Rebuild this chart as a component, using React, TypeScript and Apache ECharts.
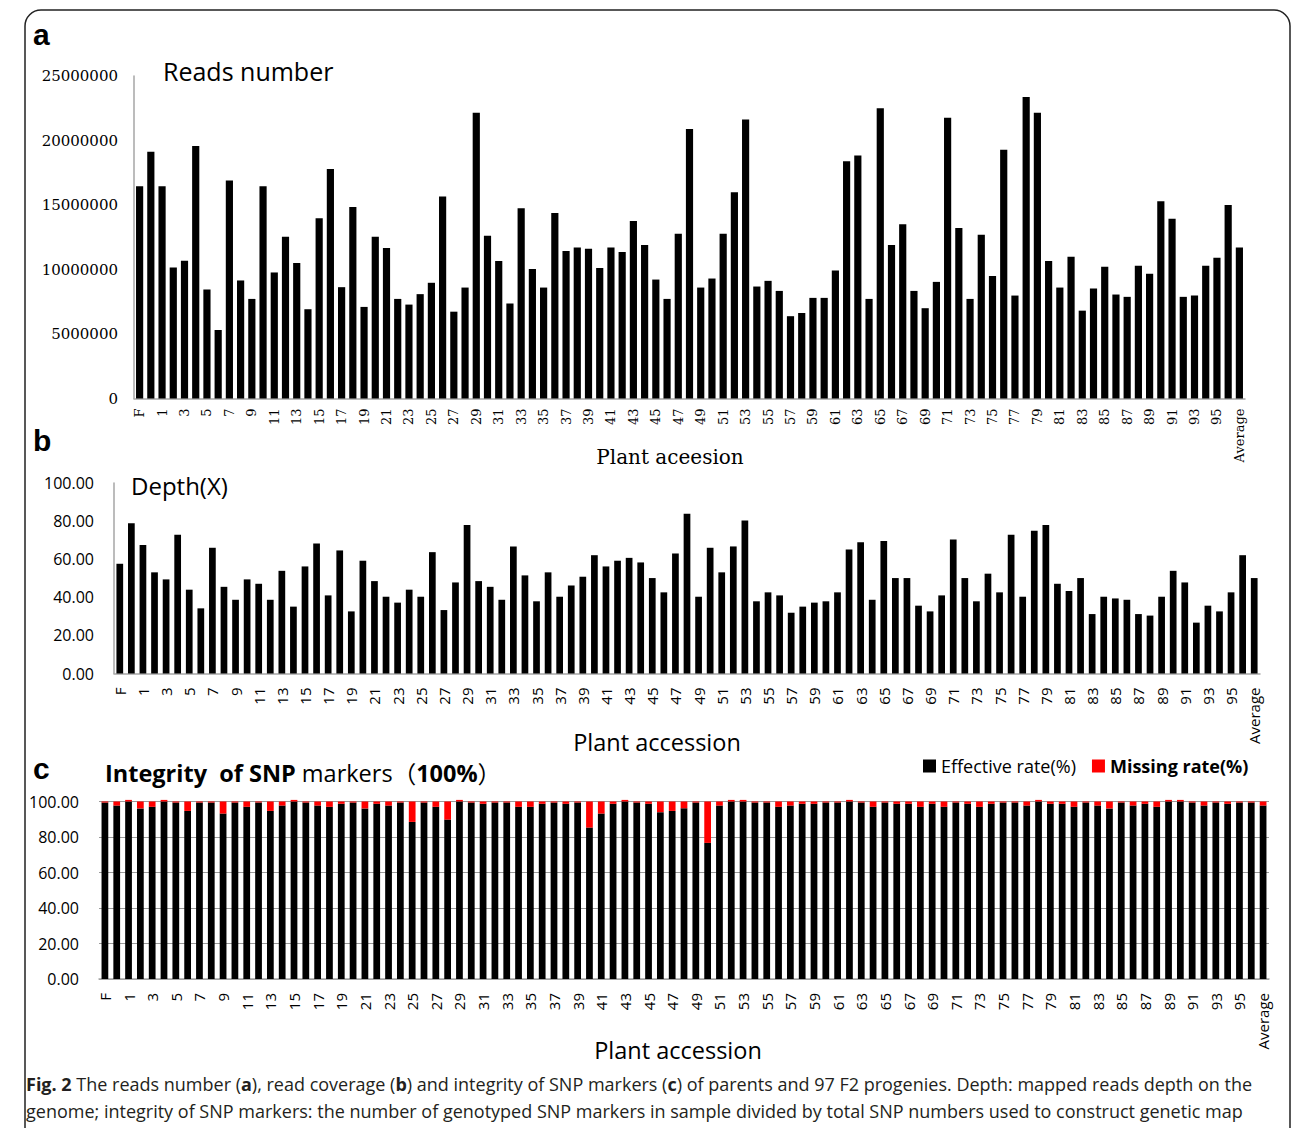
import React, { useEffect, useRef } from "react";
import * as echarts from "echarts";

const progenyLabels: string[] = Array.from({ length: 96 }, (_, i) => String(i + 1));
const categories: string[] = ["F", "M", ...progenyLabels, "Average"];

const readsNumber: number[] = [
  16450000, 19130000, 16450000, 10160000, 10680000, 19570000, 8450000, 5310000, 16900000, 9150000,
  7720000, 16450000, 9770000, 12540000, 10500000, 6920000, 13970000, 17800000, 8630000, 14850000,
  7100000, 12540000, 11660000, 7720000, 7280000, 8090000, 8970000, 15650000,
  6730000, 8600000, 22160000, 12620000, 10650000, 7360000, 14750000, 10030000, 8600000, 14380000,
  11430000, 11710000, 11610000, 10110000, 11710000, 11350000, 13760000, 11900000, 9220000, 7720000,
  12780000, 20890000, 8600000, 9300000, 12780000, 15990000, 21620000, 8680000, 9120000, 8340000,
  6380000, 6630000, 7800000, 7800000, 9920000, 18400000, 18840000,
  7720000, 22500000, 11900000, 13500000, 8340000, 7000000, 9040000, 21770000, 13220000, 7720000,
  12700000, 9490000, 19280000, 7980000, 23380000, 22160000, 10650000, 8600000, 10990000, 6810000,
  8520000, 10210000, 8060000, 7880000, 10290000, 9670000, 15290000, 13940000, 7880000, 7980000,
  10290000, 10910000, 15000000, 11710000,
];

const depth: number[] = [
  57.6, 78.9, 67.4, 53.1, 49.4, 72.8, 44.0, 34.2, 66.0, 45.5, 38.7, 49.4, 47.1, 38.7, 53.9, 35.1,
  56.2, 68.2, 41.0, 64.6, 32.6, 59.2, 48.5, 40.3, 37.2, 44.0, 40.3, 63.7, 33.3,
  47.8, 78.0, 48.5, 45.5, 38.7, 66.7, 51.5, 37.9, 53.1, 40.3, 46.2, 50.8, 62.1, 56.2, 59.2, 60.7,
  58.3, 50.1, 42.6, 63.0, 83.9, 40.3, 66.0, 53.1, 66.7, 80.3, 37.9, 42.6, 41.0, 31.9, 35.1, 37.2,
  37.9, 42.6, 65.1, 68.9,
  38.7, 69.6, 50.1, 50.1, 35.6, 32.6, 41.0, 70.3, 50.1, 37.9, 52.4, 42.6, 72.8, 40.3, 75.0, 78.0,
  47.1, 43.3, 50.1, 31.2, 40.3, 39.4, 38.7, 31.2, 30.4, 40.3, 53.9, 47.8, 26.7, 35.6, 32.6, 42.6,
  62.1, 50.1,
];

const effectiveRate: number[] = [
  99.4, 97.7, 100, 96.1, 97.0, 100, 99.4, 94.7, 99.4, 99.4, 93.2, 99.4, 97.0, 99.4, 94.7, 97.7,
  100, 99.4, 97.7, 97.0, 98.7, 99.4, 96.1, 98.7, 97.7, 99.4, 88.5, 99.4, 97.0, 89.8,
  100, 99.4, 98.7, 99.4, 99.4, 97.0, 97.0, 98.7, 99.4, 98.7, 99.4, 85.3, 93.2, 98.7, 100, 99.4,
  98.7, 94.0, 94.7, 96.2, 99.4, 76.7, 97.7, 100, 100, 99.4, 99.4, 97.0, 97.7, 98.7, 98.7, 99.4,
  99.4, 100,
  99.4, 97.0, 99.4, 98.7, 98.7, 97.0, 98.7, 97.0, 99.4, 98.7, 97.0, 98.7, 99.4, 99.4, 97.7, 100,
  98.7, 98.7, 97.0, 99.4, 97.7, 96.1, 99.4, 97.7, 98.7, 97.0, 100, 100, 99.4, 97.7, 99.4, 98.7,
  99.4, 99.4, 97.7,
];

const missingRate: number[] = [
  0.6, 2.3, 0.9, 3.9, 3.0, 0.9, 0.6, 5.3, 0.6, 0.6, 6.8, 0.6, 3.0, 0.6, 5.3, 2.3, 0.9, 0.6, 2.3,
  3.0, 1.3, 0.6, 3.9, 1.3, 2.3, 0.6, 11.5, 0.6, 3.0, 10.2,
  0.9, 0.6, 1.3, 0.6, 0.6, 3.0, 3.0, 1.3, 0.6, 1.3, 0.6, 14.7, 6.8, 1.3, 0.9, 0.6, 1.3, 6.0, 5.3,
  3.8, 0.6, 23.3, 2.3, 0.9, 0.9, 0.6, 0.6, 3.0, 2.3, 1.3, 1.3, 0.6, 0.6, 0.9,
  0.6, 3.0, 0.6, 1.3, 1.3, 3.0, 1.3, 3.0, 0.6, 1.3, 3.0, 1.3, 0.6, 0.6, 2.3, 0.9, 1.3, 1.3, 3.0,
  0.6, 2.3, 3.9, 0.6, 2.3, 1.3, 3.0, 0.9, 0.9, 0.6, 2.3, 0.6, 1.3, 0.6, 0.6, 2.3,
];

const SANS = "'Open Sans', 'Noto Sans', sans-serif";
const SERIF = "'DejaVu Serif', serif";
const AXIS_GRAY = "#a6a6a6";

export default function App() {
  const ref = useRef<HTMLDivElement>(null);
  useEffect(() => {
    document.body.style.margin = "0";
    const chart = echarts.init(ref.current!, null, { renderer: "svg" });
    const xBase = (idx: number, font: string, size: number, margin: number) => ({
      type: "category" as const,
      gridIndex: idx,
      data: categories,
      axisLine: { show: true, lineStyle: { color: AXIS_GRAY, width: 1.5 } },
      axisTick: { show: false },
      splitLine: { show: false },
      axisLabel: {
        interval: 1,
        rotate: 90,
        margin,
        fontFamily: font,
        fontSize: size,
        color: "#000",
      },
    });
    const option: any = {
      animation: false,
      backgroundColor: "#fff",
      grid: [
        { left: 134, top: 76, width: 1111, height: 322.5 },
        { left: 114, top: 483, width: 1146, height: 190.5 },
        { left: 99, top: 801.5, width: 1170, height: 177.5 },
      ],
      xAxis: [xBase(0, SERIF, 13, 10), xBase(1, SANS, 15, 14), xBase(2, SANS, 15, 14)],
      yAxis: [
        {
          type: "value",
          gridIndex: 0,
          min: 0,
          max: 25000000,
          interval: 5000000,
          axisLine: { show: true, lineStyle: { color: AXIS_GRAY, width: 1.5 } },
          axisTick: { show: false },
          splitLine: { show: false },
          axisLabel: {
            formatter: (v: number) => String(v),
            fontFamily: SERIF,
            fontSize: 15,
            color: "#000",
            margin: 16,
          },
        },
        {
          type: "value",
          gridIndex: 1,
          min: 0,
          max: 100,
          interval: 20,
          axisLine: { show: true, lineStyle: { color: AXIS_GRAY, width: 1.5 } },
          axisTick: { show: false },
          splitLine: { show: false },
          axisLabel: {
            formatter: (v: number) => v.toFixed(2),
            fontFamily: SANS,
            fontSize: 16,
            color: "#000",
            margin: 20,
          },
        },
        {
          type: "value",
          gridIndex: 2,
          min: 0,
          max: 100,
          interval: 20,
          axisLine: { show: false },
          axisTick: { show: false },
          splitLine: { show: true, lineStyle: { color: "#9a9a9a", width: 1.2 } },
          axisLabel: {
            formatter: (v: number) => v.toFixed(2),
            fontFamily: SANS,
            fontSize: 16,
            color: "#000",
            margin: 20,
          },
        },
      ],
      legend: {
        left: 918,
        top: 752,
        icon: "rect",
        itemWidth: 13,
        itemHeight: 13,
        itemGap: 16,
        selectedMode: false,
        textStyle: { fontFamily: SANS, fontSize: 18, color: "#000" },
        data: [
          { name: "Effective rate(%)", textStyle: { fontWeight: "normal" } },
          { name: "Missing rate(%)", textStyle: { fontWeight: "bold" } },
        ],
      },
      series: [
        {
          name: "Reads number",
          type: "bar",
          xAxisIndex: 0,
          yAxisIndex: 0,
          data: readsNumber,
          barWidth: "64%",
          itemStyle: { color: "#000" },
        },
        {
          name: "Depth(X)",
          type: "bar",
          xAxisIndex: 1,
          yAxisIndex: 1,
          data: depth,
          barWidth: "58%",
          itemStyle: { color: "#000" },
        },
        {
          name: "Effective rate(%)",
          type: "bar",
          xAxisIndex: 2,
          yAxisIndex: 2,
          stack: "snp",
          data: effectiveRate,
          barWidth: "57%",
          clip: false,
          itemStyle: { color: "#000" },
        },
        {
          name: "Missing rate(%)",
          type: "bar",
          xAxisIndex: 2,
          yAxisIndex: 2,
          stack: "snp",
          data: missingRate,
          barWidth: "57%",
          clip: false,
          itemStyle: { color: "#ff0000" },
        },
      ],
      graphic: [
        {
          type: "rect",
          shape: { x: 25, y: 10, width: 1265, height: 1200, r: 16 },
          style: { fill: "none", stroke: "#222", lineWidth: 1.5 },
          silent: true,
        },
        {
          type: "text",
          x: 33,
          y: 34,
          style: { text: "a", fontFamily: "'Liberation Sans', Arial, sans-serif", fontWeight: "bold", fontSize: 30, fill: "#000", textVerticalAlign: "middle" },
        },
        {
          type: "text",
          x: 33,
          y: 440,
          style: { text: "b", fontFamily: "'Liberation Sans', Arial, sans-serif", fontWeight: "bold", fontSize: 30, fill: "#000", textVerticalAlign: "middle" },
        },
        {
          type: "text",
          x: 33,
          y: 768,
          style: { text: "c", fontFamily: "'Liberation Sans', Arial, sans-serif", fontWeight: "bold", fontSize: 30, fill: "#000", textVerticalAlign: "middle" },
        },
        {
          type: "text",
          x: 163,
          y: 71,
          style: { text: "Reads number", fontFamily: SANS, fontSize: 25, fill: "#000", textVerticalAlign: "middle" },
        },
        {
          type: "text",
          x: 670,
          y: 457,
          style: { text: "Plant aceesion", fontFamily: SERIF, fontSize: 20, fill: "#000", textAlign: "center", textVerticalAlign: "middle" },
        },
        {
          type: "text",
          x: 131,
          y: 485,
          style: { text: "Depth(X)", fontFamily: SANS, fontSize: 24, fill: "#000", textVerticalAlign: "middle" },
        },
        {
          type: "text",
          x: 657,
          y: 742,
          style: { text: "Plant accession", fontFamily: SANS, fontSize: 23.5, fill: "#000", textAlign: "center", textVerticalAlign: "middle" },
        },
        {
          type: "text",
          x: 105,
          y: 773,
          style: {
            text: "{b|Integrity  of SNP} markers{p|（}{b|100%}{p|）}",
            fontFamily: SANS,
            fontSize: 23.5,
            fill: "#000",
            textVerticalAlign: "middle",
            rich: {
              b: { fontFamily: SANS, fontSize: 23.5, fontWeight: "bold", fill: "#000" },
              p: { fontFamily: "'Noto Sans CJK SC', sans-serif", fontSize: 23.5, fill: "#000" },
            },
          },
        },
        {
          type: "text",
          x: 678,
          y: 1050,
          style: { text: "Plant accession", fontFamily: SANS, fontSize: 23.5, fill: "#000", textAlign: "center", textVerticalAlign: "middle" },
        },
        {
          type: "text",
          x: 26,
          y: 1084,
          style: {
            text: "{b|Fig. 2} The reads number ({b|a}), read coverage ({b|b}) and integrity of SNP markers ({b|c}) of parents and 97 F2 progenies. Depth: mapped reads depth on the",
            fontFamily: SANS,
            fontSize: 18,
            fill: "#231f20",
            textVerticalAlign: "middle",
            rich: { b: { fontFamily: SANS, fontSize: 18, fontWeight: "bold", fill: "#231f20" } },
          },
        },
        {
          type: "text",
          x: 26,
          y: 1111,
          style: {
            text: "genome; integrity of SNP markers: the number of genotyped SNP markers in sample divided by total SNP numbers used to construct genetic map",
            fontFamily: SANS,
            fontSize: 18,
            fill: "#231f20",
            textVerticalAlign: "middle",
          },
        },
      ],
    };
    chart.setOption(option);
    return () => chart.dispose();
  }, []);
  return <div ref={ref} style={{ width: 1292, height: 1128 }} />;
}
